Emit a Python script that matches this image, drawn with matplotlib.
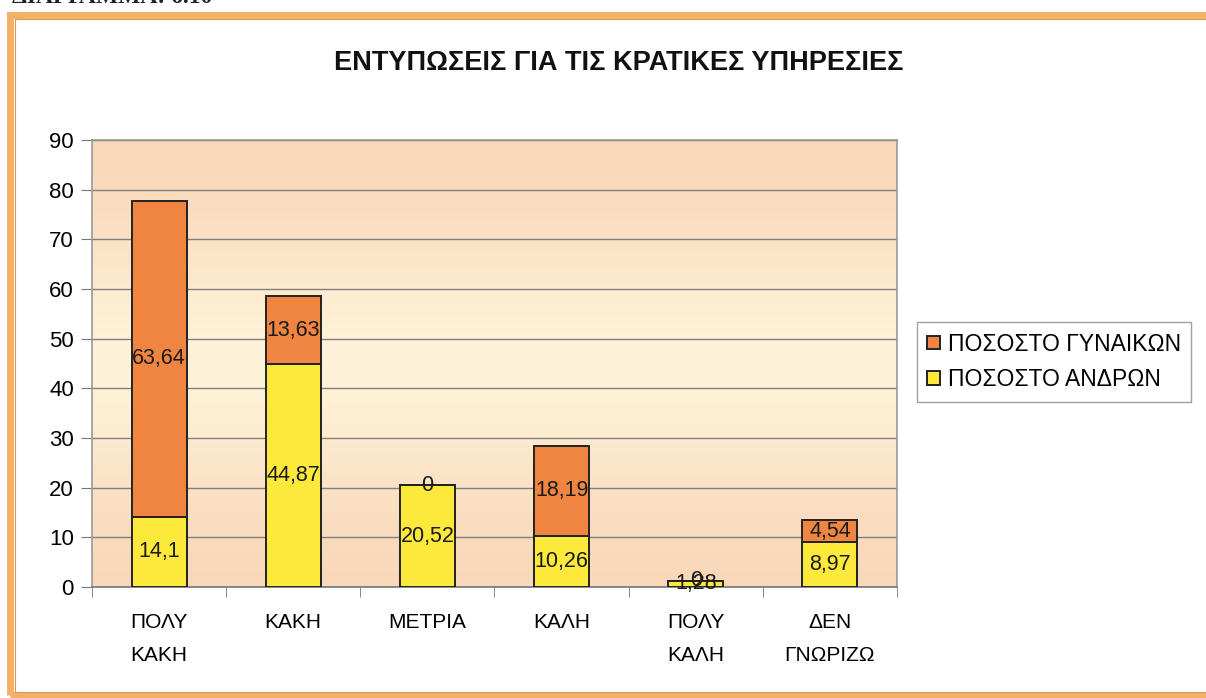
import numpy as np
import matplotlib.pyplot as plt
from matplotlib.patches import Rectangle

plt.rcParams['font.family'] = ['Liberation Sans', 'DejaVu Sans']

# data
categories = ["ΠΟΛΥ\nΚΑΚΗ", "ΚΑΚΗ", "ΜΕΤΡΙΑ", "ΚΑΛΗ", "ΠΟΛΥ\nΚΑΛΗ", "ΔΕΝ\nΓΝΩΡΙΖΩ"]
men = [14.1, 44.87, 20.52, 10.26, 1.28, 8.97]
women = [63.64, 13.63, 0, 18.19, 0, 4.54]
men_labels = ["14,1", "44,87", "20,52", "10,26", "1,28", "8,97"]
women_labels = ["63,64", "13,63", "0", "18,19", "0", "4,54"]

fig = plt.figure(figsize=(12.06, 6.98), dpi=100)

# outer orange frame
fig.patches.append(Rectangle((10 / 1206, 0.004), 1.0, 0.975, transform=fig.transFigure,
                             fill=False, edgecolor='#F4B066', linewidth=5, zorder=0))
fig.patches.append(Rectangle((15 / 1206, 0.008), 1.0, 0.965, transform=fig.transFigure,
                             fill=False, edgecolor='#D99A50', linewidth=0.8, zorder=0))
# caption above the frame, cut off by the top edge as in the scan
fig.text(12 / 1206, 1.003, "ΔΙΑΓΡΑΜΜΑ: 6.10", family=['Liberation Serif', 'DejaVu Serif'],
         fontsize=17, fontweight='bold', ha='left', va='center', color='#222222')

ax = fig.add_axes([92 / 1206, 1 - 587 / 698, 805 / 1206, 447 / 698])

# background gradient peach -> light yellow -> peach
grad = np.array([0.0, 0.5, 1.0, 0.5, 0.0])
c_edge = np.array([249, 216, 186]) / 255
c_mid = np.array([255, 248, 222]) / 255
img = np.array([[c_edge + (c_mid - c_edge) * g] for g in grad])
ax.imshow(img, extent=[0, 1, 0, 1], transform=ax.transAxes, aspect='auto',
          interpolation='bicubic', zorder=0)

x = np.arange(len(categories))
w = 0.41
ax.bar(x, men, w, color='#FDE83C', edgecolor='#222222', linewidth=1.4,
       label='ΠΟΣΟΣΤΟ ΑΝΔΡΩΝ', zorder=3)
ax.bar(x, women, w, bottom=men, color='#EF8540', edgecolor='#222222', linewidth=1.4,
       label='ΠΟΣΟΣΤΟ ΓΥΝΑΙΚΩΝ', zorder=3)

for i in range(len(x)):
    ax.text(x[i], men[i] / 2, men_labels[i], ha='center', va='center', fontsize=15.5,
            color='#1a1a1a', zorder=4)
    ax.text(x[i], men[i] + women[i] / 2, women_labels[i], ha='center', va='center',
            fontsize=15.5, color='#1a1a1a', zorder=4)

ax.set_xlim(-0.5, len(categories) - 0.5)
ax.set_ylim(0, 90)
ax.set_yticks(range(0, 91, 10))
ax.yaxis.grid(True, color='#808080', linewidth=1.0, zorder=1)
ax.set_axisbelow(True)
ax.set_xticks(x)
ax.set_xticklabels(categories, fontsize=15, linespacing=1.9)
ax.set_xticks(np.arange(-0.5, len(categories), 1), minor=True)
ax.tick_params(axis='x', which='major', length=0, pad=19)
ax.tick_params(axis='x', which='minor', length=7, color='#777777')
ax.tick_params(axis='y', length=8, color='#777777', labelsize=16, pad=5)
for s in ax.spines.values():
    s.set_color('#999999')
    s.set_linewidth(1.2)
ax.spines['bottom'].set_color('#777777')

fig.text(0.513, 1 - 63 / 698, "ΕΝΤΥΠΩΣΕΙΣ ΓΙΑ ΤΙΣ ΚΡΑΤΙΚΕΣ ΥΠΗΡΕΣΙΕΣ", ha='center', va='center',
         fontsize=19.5, fontweight='bold', color='#111111')

h, l = ax.get_legend_handles_labels()
leg = fig.legend(h[::-1], l[::-1], loc='center left', bbox_to_anchor=(917 / 1206, 1 - 362 / 698),
                 fontsize=16.5, frameon=True, fancybox=False, edgecolor='#888888',
                 handlelength=0.55, handleheight=0.55, handletextpad=0.35, borderpad=0.45,
                 labelspacing=0.55, borderaxespad=0)
leg.get_frame().set_linewidth(1.0)

fig.savefig('out.png', dpi=100)
